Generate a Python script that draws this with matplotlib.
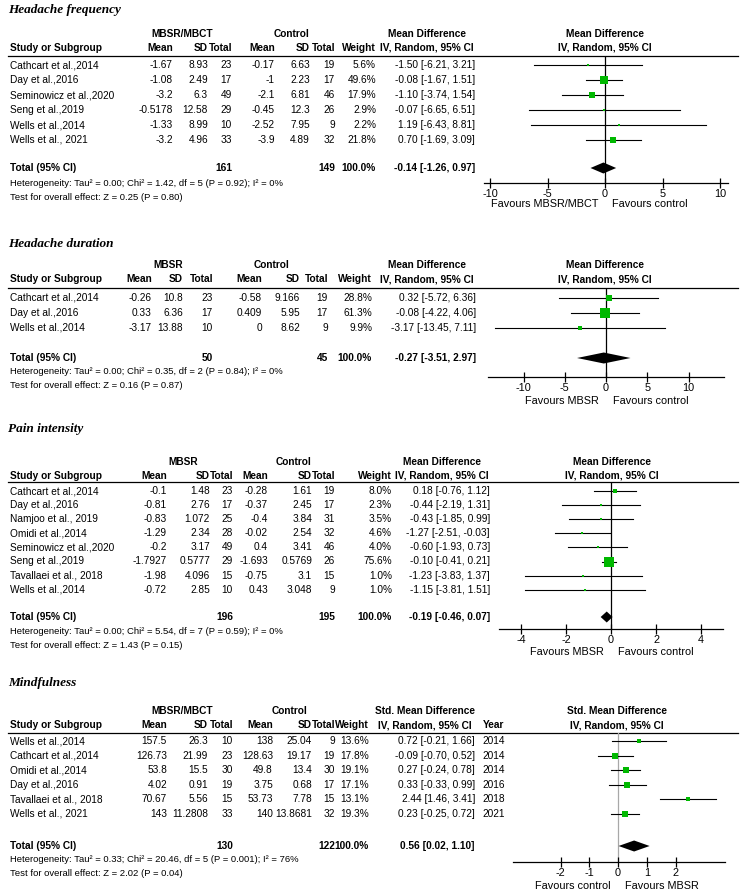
import numpy as np
import matplotlib
matplotlib.use('Agg')
import matplotlib.pyplot as plt

plt.rcParams['font.family'] = ['Liberation Sans Narrow', 'Liberation Sans', 'DejaVu Sans']

W, H = 740, 890
FS = 7.3
FS_NOTE = 6.8
GREEN = '#00b800'

# ---------------- Headache frequency ----------------
freq_studies = ['Cathcart et al.,2014', 'Day et al.,2016', 'Seminowicz et al.,2020',
                'Seng et al.,2019', 'Wells et al.,2014', 'Wells et al., 2021']
freq_mean_t = [-1.67, -1.08, -3.2, -0.5178, -1.33, -3.2]
freq_sd_t = [8.93, 2.49, 6.3, 12.58, 8.99, 4.96]
freq_n_t = [23, 17, 49, 29, 10, 33]
freq_mean_c = [-0.17, -1, -2.1, -0.45, -2.52, -3.9]
freq_sd_c = [6.63, 2.23, 6.81, 12.3, 7.95, 4.89]
freq_n_c = [19, 17, 46, 26, 9, 32]
freq_weight = [5.6, 49.6, 17.9, 2.9, 2.2, 21.8]
freq_est = [-1.50, -0.08, -1.10, -0.07, 1.19, 0.70]
freq_lo = [-6.21, -1.67, -3.74, -6.65, -6.43, -1.69]
freq_hi = [3.21, 1.51, 1.54, 6.51, 8.81, 3.09]
freq_total = [-0.14, -1.26, 0.97]
freq_het = 'Heterogeneity: Tau² = 0.00; Chi² = 1.42, df = 5 (P = 0.92); I² = 0%'
freq_test = 'Test for overall effect: Z = 0.25 (P = 0.80)'

# ---------------- Headache duration ----------------
dur_studies = ['Cathcart et al.,2014', 'Day et al.,2016', 'Wells et al.,2014']
dur_mean_t = [-0.26, 0.33, -3.17]
dur_sd_t = [10.8, 6.36, 13.88]
dur_n_t = [23, 17, 10]
dur_mean_c = [-0.58, 0.409, 0]
dur_sd_c = [9.166, 5.95, 8.62]
dur_n_c = [19, 17, 9]
dur_weight = [28.8, 61.3, 9.9]
dur_est = [0.32, -0.08, -3.17]
dur_lo = [-5.72, -4.22, -13.45]
dur_hi = [6.36, 4.06, 7.11]
dur_total = [-0.27, -3.51, 2.97]
dur_het = 'Heterogeneity: Tau² = 0.00; Chi² = 0.35, df = 2 (P = 0.84); I² = 0%'
dur_test = 'Test for overall effect: Z = 0.16 (P = 0.87)'

# ---------------- Pain intensity ----------------
pain_studies = ['Cathcart et al.,2014', 'Day et al.,2016', 'Namjoo et al., 2019', 'Omidi et al.,2014',
                'Seminowicz et al.,2020', 'Seng et al.,2019', 'Tavallaei et al., 2018', 'Wells et al.,2014']
pain_mean_t = [-0.1, -0.81, -0.83, -1.29, -0.2, -1.7927, -1.98, -0.72]
pain_sd_t = [1.48, 2.76, 1.072, 2.34, 3.17, 0.5777, 4.096, 2.85]
pain_n_t = [23, 17, 25, 28, 49, 29, 15, 10]
pain_mean_c = [-0.28, -0.37, -0.4, -0.02, 0.4, -1.693, -0.75, 0.43]
pain_sd_c = [1.61, 2.45, 3.84, 2.54, 3.41, 0.5769, 3.1, 3.048]
pain_n_c = [19, 17, 31, 32, 46, 26, 15, 9]
pain_weight = [8.0, 2.3, 3.5, 4.6, 4.0, 75.6, 1.0, 1.0]
pain_est = [0.18, -0.44, -0.43, -1.27, -0.60, -0.10, -1.23, -1.15]
pain_lo = [-0.76, -2.19, -1.85, -2.51, -1.93, -0.41, -3.83, -3.81]
pain_hi = [1.12, 1.31, 0.99, -0.03, 0.73, 0.21, 1.37, 1.51]
pain_total = [-0.19, -0.46, 0.07]
pain_het = 'Heterogeneity: Tau² = 0.00; Chi² = 5.54, df = 7 (P = 0.59); I² = 0%'
pain_test = 'Test for overall effect: Z = 1.43 (P = 0.15)'

# ---------------- Mindfulness ----------------
mind_studies = ['Wells et al.,2014', 'Cathcart et al.,2014', 'Omidi et al.,2014', 'Day et al.,2016',
                'Tavallaei et al., 2018', 'Wells et al., 2021']
mind_mean_t = [157.5, 126.73, 53.8, 4.02, 70.67, 143]
mind_sd_t = [26.3, 21.99, 15.5, 0.91, 5.56, 11.2808]
mind_n_t = [10, 23, 30, 19, 15, 33]
mind_mean_c = [138, 128.63, 49.8, 3.75, 53.73, 140]
mind_sd_c = [25.04, 19.17, 13.4, 0.68, 7.78, 13.8681]
mind_n_c = [9, 19, 30, 17, 15, 32]
mind_weight = [13.6, 17.8, 19.1, 17.1, 13.1, 19.3]
mind_est = [0.72, -0.09, 0.27, 0.33, 2.44, 0.23]
mind_lo = [-0.21, -0.70, -0.24, -0.33, 1.46, -0.25]
mind_hi = [1.66, 0.52, 0.78, 0.99, 3.41, 0.72]
mind_years = [2014, 2014, 2014, 2016, 2018, 2021]
mind_total = [0.56, 0.02, 1.10]
mind_het = 'Heterogeneity: Tau² = 0.33; Chi² = 20.46, df = 5 (P = 0.001); I² = 76%'
mind_test = 'Test for overall effect: Z = 2.02 (P = 0.04)'


fig = plt.figure(figsize=(W / 100, H / 100), dpi=100)
canvas = fig.add_axes([0, 0, 1, 1])
canvas.set_xlim(0, W)
canvas.set_ylim(H, 0)
canvas.axis('off')


def fmt(v):
    return f'{v:g}'


def txt(x, y, s, ha='right', bold=False, size=FS, **kw):
    canvas.text(x, y, s, ha=ha, va='center', fontsize=size,
                fontweight='bold' if bold else 'normal', **kw)


def ci_str(e, l, h):
    return f'{e:.2f} [{l:.2f}, {h:.2f}]'


def draw_panel(title, group, effect, studies, mt, sdt, nt, mc, sdc, nc, wt, est, lo, hi,
               total, het, test, ticks, favours, lay, years=None):
    cx = lay['cols']
    ys = lay['ys']
    # title
    canvas.text(8, ys['title'], title, ha='left', va='center', fontsize=9.5,
                family='Liberation Serif', style='italic', fontweight='bold')
    # headers
    txt(lay['grp'][0], ys['h1'], group, ha='center', bold=True)
    txt(lay['grp'][1], ys['h1'], 'Control', ha='center', bold=True)
    txt(lay['mdc'], ys['h1'], effect, ha='center', bold=True)
    txt(lay['mdc'], ys['h2'], 'IV, Random, 95% CI', ha='center', bold=True)
    txt(lay['plc'], ys['h1'], effect, ha='center', bold=True)
    txt(lay['plc'], ys['h2'], 'IV, Random, 95% CI', ha='center', bold=True)
    txt(10, ys['h2'], 'Study or Subgroup', ha='left', bold=True)
    for x, s in zip(cx[:7], ['Mean', 'SD', 'Total', 'Mean', 'SD', 'Total', 'Weight']):
        txt(x, ys['h2'], s, bold=True)
    if years is not None:
        txt(lay['year'], ys['h2'], 'Year', ha='center', bold=True)
    canvas.plot([8, 738], [ys['line'], ys['line']], color='k', lw=0.9)

    rows = [ys['row0'] + i * ys['step'] for i in range(len(studies))]
    for i, y in enumerate(rows):
        txt(10, y, studies[i], ha='left')
        vals = [fmt(mt[i]), fmt(sdt[i]), str(nt[i]), fmt(mc[i]), fmt(sdc[i]), str(nc[i]),
                f'{wt[i]:.1f}%', ci_str(est[i], lo[i], hi[i])]
        for x, s in zip(cx, vals):
            txt(x, y, s)
        if years is not None:
            txt(lay['year'], y, str(years[i]), ha='center')

    txt(10, ys['total'], 'Total (95% CI)', ha='left', bold=True)
    txt(cx[2], ys['total'], str(sum(nt)), bold=True)
    txt(cx[5], ys['total'], str(sum(nc)), bold=True)
    txt(cx[6], ys['total'], f'{sum(wt):.1f}%', bold=True)
    txt(cx[7], ys['total'], ci_str(*total), bold=True)
    txt(10, ys['het'], het, ha='left', size=FS_NOTE)
    txt(10, ys['test'], test, ha='left', size=FS_NOTE)

    # forest plot
    x0, x1, zero, ppu = lay['plot']
    ay, ly = ys['axis'], ys['line']
    ax = fig.add_axes([x0 / W, 1 - ay / H, (x1 - x0) / W, (ay - ly) / H])
    ax.patch.set_alpha(0)
    ax.set_xlim((x0 - zero) / ppu, (x1 - zero) / ppu)
    ax.set_ylim(ay, ly)
    for s in ['top', 'left', 'right']:
        ax.spines[s].set_visible(False)
    ax.spines['bottom'].set_linewidth(0.9)
    ax.set_yticks([])
    ax.set_xticks(ticks)
    ax.set_xticklabels([str(t) for t in ticks])
    ax.tick_params(axis='x', direction='inout', length=7, width=0.9, labelsize=FS + 0.5, pad=1)
    ax.plot([0, 0], [ay, ly], color=lay.get('zc', 'k'), lw=0.9, zorder=1)
    for i, y in enumerate(rows):
        ax.plot([lo[i], hi[i]], [y, y], color='k', lw=0.8, zorder=2)
        side = max(2.5, 1.25 * np.sqrt(wt[i]))
        ax.plot(est[i], y, 's', ms=side * 0.72, color=GREEN, mew=0, zorder=3)
    e, l, h = total
    ty = ys['total']
    ax.fill([l, e, h, e], [ty, ty - 5.5, ty, ty + 5.5], color='k', lw=0, zorder=3)
    off = -(ys['fav'] - ay) * 0.72
    ax.annotate(favours[0], xy=(0, 0), xycoords=('data', 'axes fraction'), xytext=(-5, off),
                textcoords='offset points', ha='right', va='center', fontsize=FS + 0.5)
    ax.annotate(favours[1], xy=(0, 0), xycoords=('data', 'axes fraction'), xytext=(5, off),
                textcoords='offset points', ha='left', va='center', fontsize=FS + 0.5)


draw_panel('Headache frequency', 'MBSR/MBCT', 'Mean Difference', freq_studies,
           freq_mean_t, freq_sd_t, freq_n_t, freq_mean_c, freq_sd_c, freq_n_c,
           freq_weight, freq_est, freq_lo, freq_hi, freq_total, freq_het, freq_test,
           [-10, -5, 0, 5, 10], ['Favours MBSR/MBCT', 'Favours control'],
           dict(cols=[173, 208, 232, 275, 310, 335, 376, 475], grp=[182, 292], mdc=427, plc=605,
                plot=(484, 728, 605, 11.5),
                ys=dict(title=10, h1=34, h2=48, line=56, row0=65, step=15, total=168,
                        het=183, test=197, axis=183, fav=204)))

draw_panel('Headache duration', 'MBSR', 'Mean Difference', dur_studies,
           dur_mean_t, dur_sd_t, dur_n_t, dur_mean_c, dur_sd_c, dur_n_c,
           dur_weight, dur_est, dur_lo, dur_hi, dur_total, dur_het, dur_test,
           [-10, -5, 0, 5, 10], ['Favours MBSR', 'Favours control'],
           dict(cols=[152, 183, 213, 262, 300, 328, 372, 476], grp=[168, 272], mdc=427, plc=605,
                plot=(488, 724, 606, 8.25),
                ys=dict(title=244, h1=265, h2=279, line=288, row0=298, step=15, total=358,
                        het=372, test=386, axis=377, fav=401)))

draw_panel('Pain intensity', 'MBSR', 'Mean Difference', pain_studies,
           pain_mean_t, pain_sd_t, pain_n_t, pain_mean_c, pain_sd_c, pain_n_c,
           pain_weight, pain_est, pain_lo, pain_hi, pain_total, pain_het, pain_test,
           [-4, -2, 0, 2, 4], ['Favours MBSR', 'Favours control'],
           dict(cols=[167, 210, 233, 268, 312, 335, 392, 490], grp=[183, 293], mdc=442, plc=612,
                plot=(499, 723, 611, 22.5),
                ys=dict(title=429, h1=462, h2=476, line=482, row0=491, step=14.1, total=617,
                        het=631, test=646, axis=629, fav=652)))

draw_panel('Mindfulness', 'MBSR/MBCT', 'Std. Mean Difference', mind_studies,
           mind_mean_t, mind_sd_t, mind_n_t, mind_mean_c, mind_sd_c, mind_n_c,
           mind_weight, mind_est, mind_lo, mind_hi, mind_total, mind_het, mind_test,
           [-2, -1, 0, 1, 2], ['Favours control', 'Favours MBSR'],
           dict(cols=[167, 208, 233, 273, 312, 335, 369, 475], grp=[182, 290], mdc=425, plc=617,
                year=494, zc='#a8a8a8', plot=(513, 725, 618, 28.75),
                ys=dict(title=683, h1=711, h2=725, line=733, row0=741, step=14.6, total=846,
                        het=860, test=873, axis=862, fav=886)),
           years=mind_years)

fig.savefig('out.png', dpi=100)
